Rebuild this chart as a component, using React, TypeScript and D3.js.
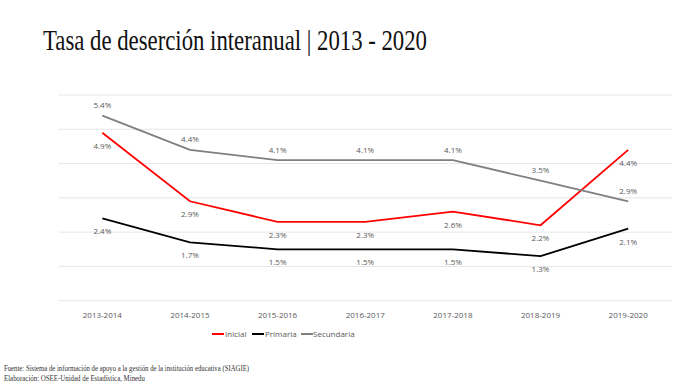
import React from 'react';
import * as d3 from 'd3';

const periods = ['2013-2014', '2014-2015', '2015-2016', '2016-2017', '2017-2018', '2018-2019', '2019-2020'];
const inicial = [4.9, 2.9, 2.3, 2.3, 2.6, 2.2, 4.4];
const primaria = [2.4, 1.7, 1.5, 1.5, 1.5, 1.3, 2.1];
const secundaria = [5.4, 4.4, 4.1, 4.1, 4.1, 3.5, 2.9];
const yTicks = [0, 1, 2, 3, 4, 5, 6];

const series = [
    {name: 'Inicial', values: inicial, color: '#ff0000', labelPos: 'below'},
    {name: 'Primaria', values: primaria, color: '#000000', labelPos: 'below'},
    {name: 'Secundaria', values: secundaria, color: '#7f7f7f', labelPos: 'above'},
];

const sans = '"Open Sans", "Liberation Sans", sans-serif';
const serif = '"Liberation Serif", "DejaVu Serif", serif';

const App = () => {
    const width = 680;
    const height = 391;

    const x = d3.scaleBand().domain(periods).range([58.5, 672]);
    const y = d3.scaleLinear().domain([0, 6]).range([300.7, 95]);
    const cx = (p: string) => (x(p) as number) + x.bandwidth() / 2;

    const line = d3.line<number>()
        .x((d, i) => cx(periods[i]))
        .y((d) => y(d));

    // legend layout
    const legendItems = [
        {lx: 212, tx: 225},
        {lx: 252, tx: 265},
        {lx: 301, tx: 313},
    ];

    return (
        <svg width={width} height={height} style={{position: 'absolute', left: 0, top: 0, background: '#fff'}}>
            <text x={43} y={50} fontFamily={serif} fontSize={30} fill="#111"
                  textLength={384} lengthAdjust="spacingAndGlyphs">
                Tasa de deserción interanual | 2013 - 2020
            </text>

            {/* grid lines */}
            {yTicks.map((t) => (
                <line key={t} x1={58.5} x2={672} y1={y(t)} y2={y(t)} stroke="#e6e6e6" strokeWidth={1}/>
            ))}

            {/* lines */}
            {series.map((s) => (
                <path key={s.name} d={line(s.values) as string} fill="none" stroke={s.color} strokeWidth={1.8}/>
            ))}

            {/* data labels */}
            {series.map((s) => s.values.map((v, i) => (
                <text key={s.name + i} x={cx(periods[i])} y={s.labelPos === 'above' ? y(v) - 7.5 : y(v) + 16}
                      textAnchor="middle" fontFamily={sans} fontSize={8} fill="#595959">
                    {v.toFixed(1)}%
                </text>
            )))}

            {/* x axis labels */}
            {periods.map((p) => (
                <text key={p} x={cx(p)} y={318} textAnchor="middle" fontFamily={sans} fontSize={8} fill="#595959">
                    {p}
                </text>
            ))}

            {/* legend */}
            {series.map((s, i) => (
                <g key={s.name}>
                    <line x1={legendItems[i].lx} x2={legendItems[i].lx + 12} y1={334} y2={334} stroke={s.color} strokeWidth={2}/>
                    <text x={legendItems[i].tx} y={337} fontFamily={sans} fontSize={8} fill="#595959">{s.name}</text>
                </g>
            ))}

            {/* footer */}
            <text x={4} y={371} fontFamily={serif} fontSize={8} fill="#333" textLength={245} lengthAdjust="spacingAndGlyphs">
                Fuente: Sistema de información de apoyo a la gestión de la institución educativa (SIAGIE)
            </text>
            <text x={4} y={381} fontFamily={serif} fontSize={8} fill="#333" textLength={141} lengthAdjust="spacingAndGlyphs">
                Elaboración: OSEE-Unidad de Estadística, Minedu
            </text>
        </svg>
    );
};

export default App;
